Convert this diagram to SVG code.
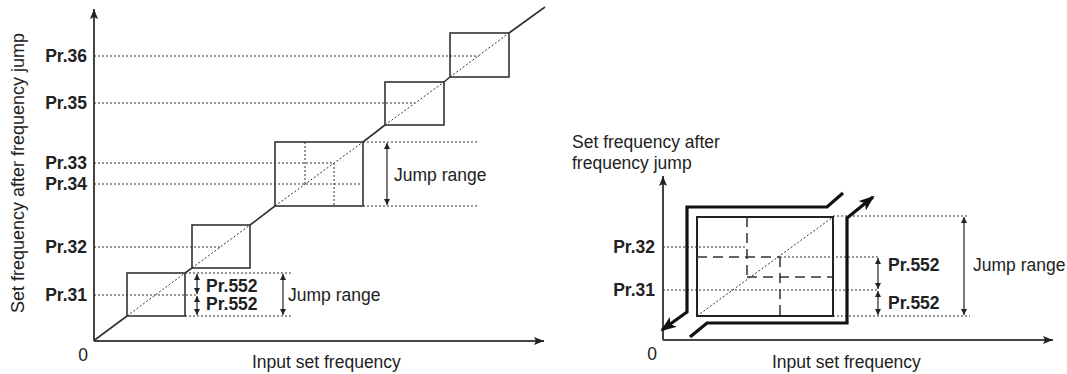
<svg xmlns="http://www.w3.org/2000/svg" width="1067" height="374" viewBox="0 0 1067 374">
<defs>
<marker id="ah" markerUnits="userSpaceOnUse" markerWidth="10" markerHeight="8" refX="10" refY="4" orient="auto-start-reverse"><path d="M0,0 L10,4 L0,8 L2,4 z" fill="#222"/></marker>
<marker id="dh" markerUnits="userSpaceOnUse" markerWidth="6" markerHeight="6" refX="6" refY="3" orient="auto-start-reverse"><path d="M0,0 L6,3 L0,6 z" fill="#222"/></marker>
<marker id="bh" markerUnits="userSpaceOnUse" markerWidth="16" markerHeight="12" refX="14" refY="6" orient="auto-start-reverse"><path d="M0,0 L16,6 L0,12 L4,6 z" fill="#111"/></marker>
</defs>
<style>
.ax{stroke:#444;stroke-width:2;fill:none}
.sol{stroke:#333;stroke-width:1.6;fill:none}
.dot{stroke:#333;stroke-width:1;stroke-dasharray:2 2;fill:none}
.dash{stroke:#333;stroke-width:1.5;stroke-dasharray:10 6;fill:none}
.thick{stroke:#111;stroke-width:3.2;fill:none}
.dbl{stroke:#222;stroke-width:1.2;fill:none;marker-start:url(#dh);marker-end:url(#dh)}
.t{font-family:"Liberation Sans",Arial,sans-serif;font-size:17.5px;fill:#222}
.b{font-family:"Liberation Sans",Arial,sans-serif;font-size:17.5px;font-weight:bold;fill:#222}
.r{text-anchor:end}
.m{text-anchor:middle}
</style>

<g id="left-chart">
  <g id="left-axes">
    <path class="ax" d="M94,341 L94,9" marker-end="url(#ah)"/>
    <path class="ax" d="M94,341 L544,341" marker-end="url(#ah)"/>
    <text class="t m" x="83" y="361">0</text>
    <text class="t" x="252" y="368">Input set frequency</text>
    <text class="t m" style="font-size:18px" transform="translate(24,173) rotate(-90)">Set frequency after frequency jump</text>
  </g>
  <g id="left-levels">
    <path class="dot" d="M94,56 H479 M94,103 H415 M94,163 H334 M94,184 H363 M94,247 H220 M94,295 H197"/>
    <text class="b r" x="87" y="62">Pr.36</text>
    <text class="b r" x="87" y="109">Pr.35</text>
    <text class="b r" x="87" y="169">Pr.33</text>
    <text class="b r" x="87" y="190">Pr.34</text>
    <text class="b r" x="87" y="253">Pr.32</text>
    <text class="b r" x="87" y="301">Pr.31</text>
  </g>
  <g id="left-boxes">
    <rect class="sol" x="127" y="273" width="58" height="43"/>
    <rect class="sol" x="192" y="225" width="58" height="43"/>
    <rect class="sol" x="275" y="142" width="88" height="64"/>
    <rect class="sol" x="385" y="82" width="59" height="43"/>
    <rect class="sol" x="450" y="33" width="59" height="44"/>
    <path class="dot" d="M305,142 V184 M334,163 V206"/>
  </g>
  <g id="left-curve">
    <path class="sol" d="M94,340.5 L127,316 M185,273 L192,268 M250,225 L275,206 M363,142 L385,125 M444,82 L450,77 M509,33 L545,7"/>
    <path class="dot" d="M127,316 L185,273 M192,268 L250,225 M275,206 L363,142 M385,125 L444,82 M450,77 L509,33"/>
  </g>
  <g id="left-range-upper">
    <path class="dot" d="M363,142 H478 M363,206 H478"/>
    <path class="dbl" d="M387,143 V205"/>
    <text class="t" x="394" y="181">Jump range</text>
  </g>
  <g id="left-range-lower">
    <path class="dot" d="M185,273 H292 M185,316 H292"/>
    <path class="dbl" d="M197,274 V294"/>
    <path class="dbl" d="M197,296 V315"/>
    <path class="dbl" d="M283,274 V315"/>
    <text class="b" x="206" y="292">Pr.552</text>
    <text class="b" x="206" y="310">Pr.552</text>
    <text class="t" x="288" y="301">Jump range</text>
  </g>
</g>

<g id="right-chart">
  <g id="right-axes">
    <path class="ax" d="M663,340 L663,176" marker-end="url(#ah)"/>
    <path class="ax" d="M663,340 L1053,340" marker-end="url(#ah)"/>
    <text class="t m" x="652" y="360">0</text>
    <text class="t" x="772" y="368">Input set frequency</text>
    <text class="t" x="572" y="148">Set frequency after</text>
    <text class="t" x="572" y="169">frequency jump</text>
  </g>
  <g id="right-levels">
    <path class="dot" d="M663,247 H747 M663,290 H878 M833,216 H967 M780,257 H880 M833,316 H970"/>
    <text class="b r" x="655" y="253">Pr.32</text>
    <text class="b r" x="655" y="296">Pr.31</text>
  </g>
  <g id="right-box">
    <rect x="697" y="217" width="136" height="99" fill="none" stroke="#222" stroke-width="2"/>
    <path class="dot" d="M697,316 L833,217"/>
    <path class="dash" d="M747,217 V277 M697,257 H780 M747,277 H833 M780,257 V316"/>
  </g>
  <g id="right-paths">
    <path class="thick" d="M843,193 L827,207 L687,207 L687,312 L662,330" marker-end="url(#bh)"/>
    <path class="thick" d="M690,337 L707,323 L847,323 L847,218 L873,197" marker-end="url(#bh)"/>
  </g>
  <g id="right-range">
    <path class="dbl" d="M878,258 V289"/>
    <path class="dbl" d="M878,291 V315"/>
    <path class="dbl" d="M964,217 V315"/>
    <text class="b" x="888" y="271">Pr.552</text>
    <text class="b" x="888" y="309">Pr.552</text>
    <text class="t" x="973" y="271">Jump range</text>
  </g>
</g>
</svg>
